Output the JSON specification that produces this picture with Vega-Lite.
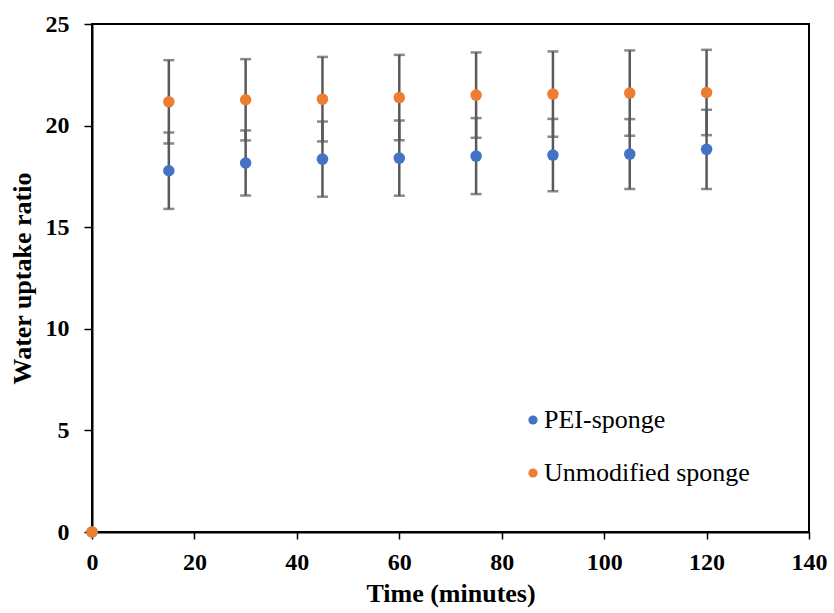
{
  "$schema": "https://vega.github.io/schema/vega-lite/v6.json",
  "autosize": "none",
  "width": 717,
  "height": 508,
  "padding": {"left": 92, "top": 24, "right": 25, "bottom": 81},
  "background": "white",
  "config": {
    "view": {"stroke": "black", "strokeWidth": 2},
    "axis": {
      "grid": false,
      "domainColor": "black",
      "domainWidth": 2,
      "tickColor": "black",
      "tickWidth": 1.5,
      "labelFlush": false,
      "labelFont": "Liberation Serif",
      "labelFontSize": 24,
      "labelFontWeight": "bold",
      "labelColor": "black",
      "titleFont": "Liberation Serif",
      "titleFontSize": 26,
      "titleFontWeight": "bold",
      "titleColor": "black"
    }
  },
  "data": {
    "values": [
      {"time": 0, "series": "PEI-sponge", "value": 0, "err": 0},
      {"time": 15, "series": "PEI-sponge", "value": 17.78, "err": 1.88},
      {"time": 30, "series": "PEI-sponge", "value": 18.16, "err": 1.6},
      {"time": 45, "series": "PEI-sponge", "value": 18.35, "err": 1.85},
      {"time": 60, "series": "PEI-sponge", "value": 18.4, "err": 1.85},
      {"time": 75, "series": "PEI-sponge", "value": 18.5, "err": 1.87},
      {"time": 90, "series": "PEI-sponge", "value": 18.55, "err": 1.78},
      {"time": 105, "series": "PEI-sponge", "value": 18.6, "err": 1.72},
      {"time": 120, "series": "PEI-sponge", "value": 18.83, "err": 1.95},
      {"time": 0, "series": "Unmodified sponge", "value": 0, "err": 0},
      {"time": 15, "series": "Unmodified sponge", "value": 21.17, "err": 2.05},
      {"time": 30, "series": "Unmodified sponge", "value": 21.27, "err": 2.0},
      {"time": 45, "series": "Unmodified sponge", "value": 21.3, "err": 2.08},
      {"time": 60, "series": "Unmodified sponge", "value": 21.38, "err": 2.1},
      {"time": 75, "series": "Unmodified sponge", "value": 21.5, "err": 2.1},
      {"time": 90, "series": "Unmodified sponge", "value": 21.55, "err": 2.1},
      {"time": 105, "series": "Unmodified sponge", "value": 21.6, "err": 2.1},
      {"time": 120, "series": "Unmodified sponge", "value": 21.63, "err": 2.1}
    ]
  },
  "transform": [
    {"calculate": "datum.value - datum.err", "as": "lo"},
    {"calculate": "datum.value + datum.err", "as": "hi"}
  ],
  "encoding": {
    "x": {
      "field": "time", "type": "quantitative",
      "scale": {"domain": [0, 140], "nice": false},
      "axis": {"values": [0, 20, 40, 60, 80, 100, 120, 140], "title": "Time (minutes)", "tickSize": 7, "labelPadding": 11, "titlePadding": 6}
    },
    "y": {
      "field": "value", "type": "quantitative",
      "scale": {"domain": [0, 25], "nice": false},
      "axis": {"values": [0, 5, 10, 15, 20, 25], "title": "Water uptake ratio", "tickSize": 8, "labelPadding": 15, "titlePadding": 10}
    }
  },
  "layer": [
    {
      "mark": {"type": "rule", "color": "#595959", "strokeWidth": 2.5},
      "transform": [{"filter": "datum.time > 0"}],
      "encoding": {"y": {"field": "lo", "type": "quantitative"}, "y2": {"field": "hi"}}
    },
    {
      "mark": {"type": "tick", "color": "#595959", "thickness": 2.5, "size": 11, "orient": "horizontal"},
      "transform": [{"filter": "datum.time > 0"}],
      "encoding": {"y": {"field": "lo", "type": "quantitative"}}
    },
    {
      "mark": {"type": "tick", "color": "#595959", "thickness": 2.5, "size": 11, "orient": "horizontal"},
      "transform": [{"filter": "datum.time > 0"}],
      "encoding": {"y": {"field": "hi", "type": "quantitative"}}
    },
    {
      "mark": {"type": "point", "filled": true, "opacity": 1, "size": 133},
      "encoding": {
        "color": {
          "field": "series", "type": "nominal",
          "scale": {"domain": ["PEI-sponge", "Unmodified sponge"], "range": ["#4472C4", "#ED7D31"]},
          "legend": {
            "title": null,
            "orient": "none",
            "legendX": 428,
            "legendY": 383,
            "symbolType": "circle",
            "symbolSize": 85,
            "symbolOpacity": 1,
            "labelFont": "Liberation Serif",
            "labelFontSize": 26,
            "labelColor": "black",
            "labelLimit": 400,
            "rowPadding": 27,
            "labelOffset": -2
          }
        },
        "order": {"field": "series", "sort": "ascending"}
      }
    }
  ]
}
